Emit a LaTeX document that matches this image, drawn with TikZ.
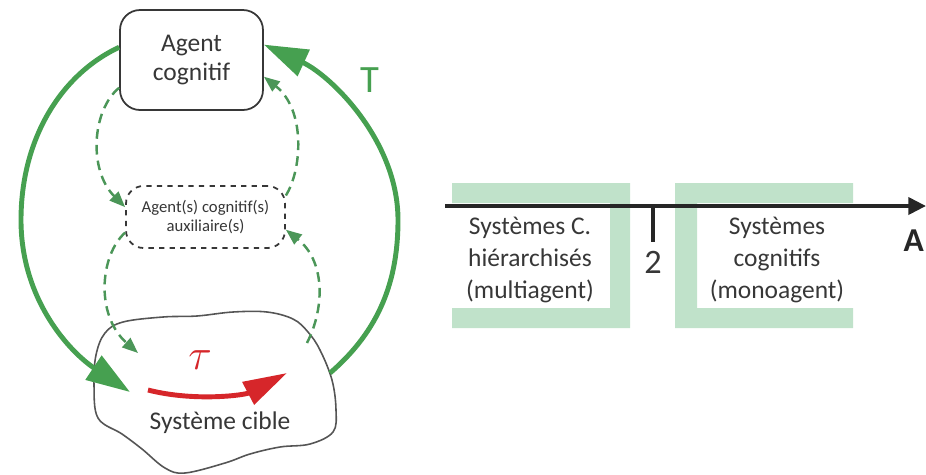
\documentclass[tikz,border=0pt]{standalone}
\usepackage{fontspec}
\setmainfont{Carlito}[Numbers=Lining]
\usetikzlibrary{arrows.meta,positioning}
\definecolor{vert}{RGB}{70,160,80}
\definecolor{vertfonce}{RGB}{75,150,88}
\definecolor{vertpale}{RGB}{192,226,202}
\definecolor{rouge}{RGB}{214,38,42}
\definecolor{gris}{RGB}{55,55,55}

\begin{document}
\begin{tikzpicture}[x=0.02cm, y=-0.02cm,
    agentbox/.style={draw=gris, fill=white, line width=1pt, rounded corners=0.4cm,
        minimum width=2.86cm, minimum height=2cm, align=center, text=gris,
        font=\fontsize{14.5}{17}\selectfont},
    auxbox/.style={draw=gris, fill=white, dashed, line width=1pt, rounded corners=0.35cm,
        minimum width=3.18cm, minimum height=1.24cm, align=center, text=gris,
        font=\fontsize{9.5}{11}\selectfont},
    bigarrow/.style={draw=vert, line width=2.8pt, -{Triangle[length=25pt,width=16pt]}},
    dasharrow/.style={draw=vertfonce, line width=1.4pt, dash pattern=on 5.5pt off 3.5pt,
        -{Triangle[length=9pt,width=7pt]}},
    legende/.style={text=gris, align=center, font=\fontsize{14.5}{18}\selectfont},
    axe/.style={draw=black!85, line width=2.2pt},
]
    \useasboundingbox (0,0) rectangle (926,474);

    % Systeme cible
    \draw[gris!85, fill=white, line width=0.9pt] plot[smooth cycle, tension=0.6] coordinates {
        (105,333) (123,322) (163,317) (197,316) (233,312) (267,312) (293,319)
        (308,332) (320,350) (332,380) (336,410) (333,432) (310,444) (280,447)
        (250,454) (225,463) (185,473) (165,468) (142,449) (122,434) (98,418)
        (94,385) (96,355)};
    \node[legende, font=\fontsize{14.5}{17}\selectfont] (cible) at (220,423) {Système cible};
    \coordinate (cibleG) at (130,392);
    \coordinate (cibleD) at (330,373);
    \coordinate (cibleHG) at (138,353);
    \coordinate (cibleHD) at (307,343);

    % Agents
    \node[agentbox] (agent) at (191.5,60) {Agent\\cognitif};
    \node[auxbox] (aux) at (205.5,217) {Agent(s) cognitif(s)\\auxiliaire(s)};

    % Boucle T
    \draw[bigarrow] (agent.170) .. controls (60,75) and (21,140) .. (21,220)
        .. controls (21,300) and (70,352) .. (cibleG);
    \draw[bigarrow] (cibleD) .. controls (380,330) and (398,280) .. (398,220)
        .. controls (398,140) and (330,75) .. (agent.12);
    \node[text=vert, font=\fontsize{22}{22}\selectfont] (T) at (370,80) {T};

    % Boucles auxiliaires
    \draw[dasharrow] (agent.201) .. controls (92,110) and (88,170) .. (aux.173);
    \draw[dasharrow] (aux.15) .. controls (302,170) and (306,110) .. (agent.-13);
    \draw[dasharrow] (aux.191) .. controls (100,255) and (95,315) .. (cibleHG);
    \draw[dasharrow] (cibleHD) .. controls (326,305) and (324,260) .. (aux.-9);

    % tau
    \coordinate (tauA) at (148,390);
    \coordinate (tauB) at (287,373);
    \draw[rouge, line width=2.8pt, -{Triangle[length=25pt,width=14pt]}]
        (tauA) .. controls (195,402) and (245,395) .. (tauB);
    \node[text=rouge, font=\fontsize{28}{28}\selectfont] (tau) at (200,360) {$\tau$};

    % Axe
    \fill[vertpale] (452,183) -- (630,183) -- (630,328) -- (452,328) -- (452,308)
        -- (610,308) -- (610,203) -- (452,203) -- cycle;
    \fill[vertpale] (853,183) -- (675,183) -- (675,328) -- (853,328) -- (853,308)
        -- (697,308) -- (697,203) -- (853,203) -- cycle;
    \coordinate (origine) at (445,206);
    \coordinate (fin) at (926,206);
    \coordinate (repere) at (653,206);
    \draw[axe, -{Triangle[length=10pt,width=9.6pt]}] (origine) -- (fin);
    \draw[axe] (repere) -- ++(0,36);
    \node[legende, font=\fontsize{19.5}{20}\selectfont] (deux) at (653,262) {2};
    \node[text=black!85, anchor=east, inner sep=1pt, font=\fontsize{19}{19}\selectfont\bfseries] (A) at (926,241) {A};

    % Legendes
    \node[legende] (hier) at (530,260) {Systèmes C.\\hiérarchisés\\(multiagent)};
    \node[legende] (mono) at (777,260) {Systèmes\\cognitifs\\(monoagent)};
\end{tikzpicture}
\end{document}
